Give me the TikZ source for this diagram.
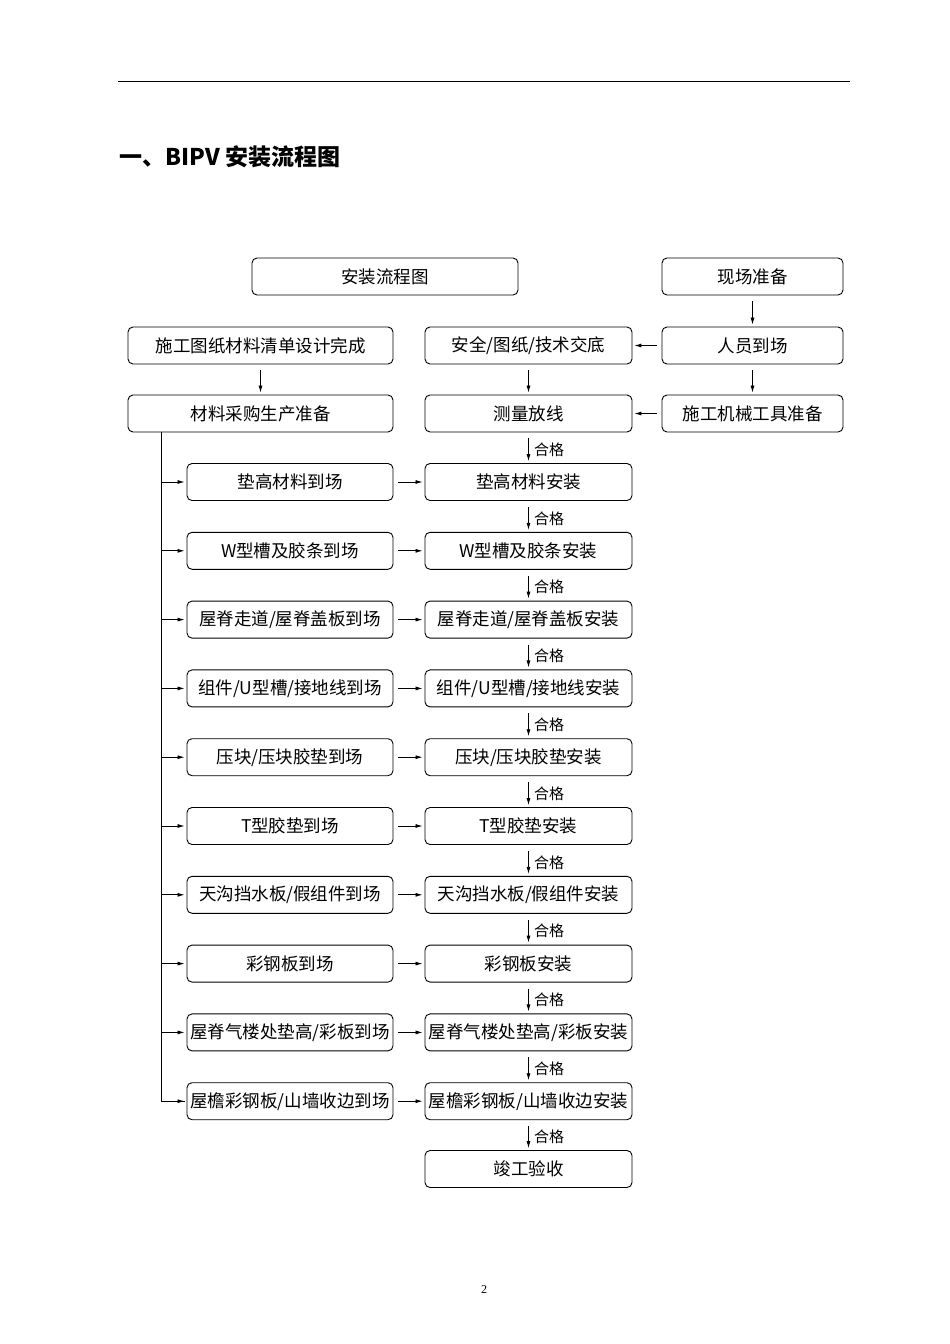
\documentclass[tikz,border=0pt]{standalone}
\usepackage{fontspec}
\setmainfont{Liberation Serif}
\newfontfamily\cjk{Noto Sans CJK SC}
\usetikzlibrary{arrows.meta}
\begin{document}
\begin{tikzpicture}[x=1pt,y=-1pt,
  bx/.style={draw,rounded corners=5pt,line width=0.9pt,minimum height=37pt,font=\cjk\fontsize{17.5}{17.5}\selectfont,inner sep=0pt},
  ar/.style={-{Latex[length=7pt,width=4pt]},line width=0.8pt},
  ok/.style={font=\cjk\fontsize{15}{15}\selectfont,anchor=west}]
\fill[white] (0,0) rectangle (950,1344);
\useasboundingbox (0,0) rectangle (950,1344);
\draw[line width=1pt] (118,81) -- (850,81);
\node[anchor=west,font=\cjk\bfseries\fontsize{23}{23}\selectfont] (title) at (116,157) {一、BIPV 安装流程图};
\node[font=\fontsize{12}{12}\selectfont] (pg) at (484,1290) {2};
% top rows
\node[bx,minimum width=266pt] (t) at (385,276.5) {安装流程图};
\node[bx,minimum width=181pt] (r1) at (752.5,276.5) {现场准备};
\node[bx,minimum width=265pt] (l2) at (260.5,345.5) {施工图纸材料清单设计完成};
\node[bx,minimum width=207pt] (m2) at (528.5,345.5) {安全/图纸/技术交底};
\node[bx,minimum width=181pt] (r2) at (752.5,345.5) {人员到场};
\node[bx,minimum width=265pt] (l3) at (260.5,413.5) {材料采购生产准备};
\node[bx,minimum width=207pt] (m3) at (528.5,413.5) {测量放线};
\node[bx,minimum width=181pt] (r3) at (752.5,413.5) {施工机械工具准备};
\draw[ar] ([yshift=-6pt]r1.south) -- ([yshift=2pt]r2.north);
\draw[ar] ([yshift=-6pt]r2.south) -- ([yshift=2pt]r3.north);
\draw[ar] ([yshift=-6pt]l2.south) -- ([yshift=2pt]l3.north);
\draw[ar] ([yshift=-6pt]m2.south) -- ([yshift=2pt]m3.north);
\draw[ar] ([xshift=-5pt]r2.west) -- ([xshift=2pt]m2.east);
\draw[ar] ([xshift=-5pt]r3.west) -- ([xshift=2pt]m3.east);
% rows
\foreach \i/\a/\b in {1/{垫高材料到场}/{垫高材料安装},
 2/{W型槽及胶条到场}/{W型槽及胶条安装},
 3/{屋脊走道/屋脊盖板到场}/{屋脊走道/屋脊盖板安装},
 4/{组件/U型槽/接地线到场}/{组件/U型槽/接地线安装},
 5/{压块/压块胶垫到场}/{压块/压块胶垫安装},
 6/{T型胶垫到场}/{T型胶垫安装},
 7/{天沟挡水板/假组件到场}/{天沟挡水板/假组件安装},
 8/{彩钢板到场}/{彩钢板安装},
 9/{屋脊气楼处垫高/彩板到场}/{屋脊气楼处垫高/彩板安装},
 10/{屋檐彩钢板/山墙收边到场}/{屋檐彩钢板/山墙收边安装}}{
  \pgfmathsetmacro{\yy}{482+(\i-1)*68.8}
  \node[bx,minimum width=206pt] (a\i) at (290,\yy) {\a};
  \node[bx,minimum width=207pt] (b\i) at (528.5,\yy) {\b};
  \coordinate (s\i) at (161,\yy);
  \draw[ar] (s\i) -- ([xshift=-2pt]a\i.west);
  \draw[ar] ([xshift=5pt]a\i.east) -- ([xshift=-2pt]b\i.west);
}
\node[bx,minimum width=207pt] (end) at (528.5,1169) {竣工验收};
\coordinate (trunk) at (161,432);
\draw[line width=0.8pt] (trunk) -- (s10) -- ([xshift=-2pt]a10.west);
\draw[ar] ([yshift=-6pt]m3.south) -- node[ok,xshift=2pt]{合格} ([yshift=2pt]b1.north);
\foreach \i [evaluate=\i as \j using int(\i+1)] in {1,...,9}{
  \draw[ar] ([yshift=-6pt]b\i.south) -- node[ok,xshift=2pt]{合格} ([yshift=2pt]b\j.north);
}
\draw[ar] ([yshift=-6pt]b10.south) -- node[ok,xshift=2pt]{合格} ([yshift=2pt]end.north);
\end{tikzpicture}
\end{document}
